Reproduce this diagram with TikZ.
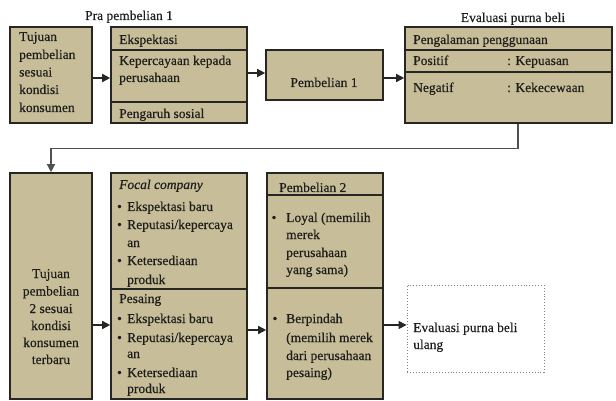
\documentclass[tikz,border=0pt]{standalone}
\usepackage{fontspec}
\setmainfont{Liberation Serif}[FakeBold=0.4]
\usetikzlibrary{arrows.meta}
\definecolor{khaki}{RGB}{199,189,152}
\definecolor{edge}{RGB}{38,38,34}
\definecolor{ink}{RGB}{30,30,28}
\definecolor{conngray}{RGB}{80,80,80}
\begin{document}
\begin{tikzpicture}[x=1pt,y=-1pt,
  box/.style={draw=edge,fill=khaki,line width=1.6pt,inner sep=0pt},
  divider/.style={draw=edge,line width=1.6pt},
  txt/.style={anchor=base west,inner sep=0pt,text=ink,font=\fontsize{13.5}{16}\selectfont},
  ctxt/.style={anchor=base,inner sep=0pt,text=ink,font=\fontsize{13.5}{16}\selectfont},
  arr/.style={draw=edge,line width=1.5pt,-{Triangle[length=8pt,width=8pt]}},
  conn/.style={draw=conngray,line width=1.3pt,-{Triangle[length=8pt,width=8pt]}},
  dotbox/.style={draw=gray,dotted,line width=0.9pt,inner sep=0pt}]
\useasboundingbox (0,0) rectangle (616,401);

% top row boxes
\node[box,minimum width=82pt,minimum height=96pt] (A) at (51,75) {};
\node[box,minimum width=136pt,minimum height=96pt] (B) at (179,75) {};
\node[box,minimum width=117pt,minimum height=50pt] (C) at (324.5,75) {};
\node[box,minimum width=207pt,minimum height=96pt] (D) at (508.5,75) {};
% bottom row boxes
\node[box,minimum width=82pt,minimum height=226pt] (E) at (51,286) {};
\node[box,minimum width=136pt,minimum height=226pt] (F) at (179,286) {};
\node[box,minimum width=116pt,minimum height=226pt] (G) at (325,286) {};
\node[dotbox,minimum width=137pt,minimum height=87pt] (H) at (475.5,328.5) {};

% dividers
\draw[divider] (111,50) -- (247,50);
\draw[divider] (111,102) -- (247,102);
\draw[divider] (405,50) -- (612,50);
\draw[divider] (405,72) -- (612,72);
\draw[divider] (111,289) -- (247,289);
\draw[divider] (267,195) -- (383,195);
\draw[divider] (267,288) -- (383,288);

% connectors
\draw[arr] ([yshift=-3pt]A.east) -- ([yshift=-3pt]B.west);
\draw[arr] ([yshift=2pt]B.east) -- ([yshift=2pt]C.west);
\draw[arr] ([yshift=-3pt]C.east) -- ([yshift=-3pt]D.west);
\draw[conn] ([xshift=9.5pt]D.south) -- ++(0,25) -| (E.north);
\draw[arr] ([yshift=-39pt]E.east) -- ([yshift=-39pt]F.west);
\draw[arr] ([yshift=-44pt]F.east) -- ([yshift=-44pt]G.west);
\draw[arr] ([yshift=-39pt]G.east) -- ([yshift=-39pt]G.east -| H.west);

% titles
\node[ctxt] (t1) at (129,20) {Pra pembelian 1};
\node[ctxt] (t2) at (513,22) {Evaluasi purna beli};

% box A
\foreach \s/\y [count=\i] in {{Tujuan}/41,{pembelian}/59,{sesuai}/76.5,{kondisi}/94,{konsumen}/112}
  \node[txt] (a\i) at (19,\y) {\s};
% box B
\node[txt] (b1) at (119,44) {Ekspektasi};
\node[txt] (b2) at (119,65) {Kepercayaan kepada};
\node[txt] (b3) at (119,82) {perusahaan};
\node[txt] (b4) at (119,118) {Pengaruh sosial};
% box C
\node[ctxt] (c1) at (324,87) {Pembelian 1};
% box D
\node[txt] (d1) at (413,44) {Pengalaman penggunaan};
\node[txt] (d2) at (413,65) {Positif};
\node[txt] (d3) at (507,65) {: Kepuasan};
\node[txt] (d4) at (413,92) {Negatif};
\node[txt] (d5) at (507,92) {: Kekecewaan};

% box E
\foreach \s/\y [count=\i] in {{Tujuan}/278,{pembelian}/295.5,{2 sesuai}/313,{kondisi}/330,{konsumen}/347,{terbaru}/364}
  \node[ctxt] (e\i) at (51,\y) {\s};

% box F
\node[txt,font=\fontsize{13.5}{16}\selectfont\itshape] (f0) at (119,189) {Focal company};
\foreach \s/\y [count=\i] in {{Ekspektasi baru}/211,{Reputasi/kepercaya}/229,{an}/247,{Ketersediaan}/265,{produk}/284}
  \node[txt] (f\i) at (127,\y) {\s};
\foreach \y [count=\i] in {211,229,265}
  \node[ctxt] (fb\i) at (119.5,\y) {\textbullet};
\node[txt] (p0) at (119,303) {Pesaing};
\foreach \s/\y [count=\i] in {{Ekspektasi baru}/323,{Reputasi/kepercaya}/342,{an}/358,{Ketersediaan}/377,{produk}/393}
  \node[txt] (p\i) at (127,\y) {\s};
\foreach \y [count=\i] in {323,342,377}
  \node[ctxt] (pb\i) at (119.5,\y) {\textbullet};

% box G
\node[txt] (g0) at (279,192) {Pembelian 2};
\node[ctxt] (gb1) at (274,222) {\textbullet};
\foreach \s/\y [count=\i] in {{Loyal (memilih}/222,{merek}/239,{perusahaan}/257,{yang sama)}/274}
  \node[txt] (g\i) at (286,\y) {\s};
\node[ctxt] (gb2) at (275,323) {\textbullet};
\foreach \s/\y [count=\i] in {{Berpindah}/323,{(memilih merek}/342,{dari perusahaan}/360,{pesaing)}/377}
  \node[txt] (h\i) at (286,\y) {\s};

% box H
\node[txt] (k1) at (413,332) {Evaluasi purna beli};
\node[txt] (k2) at (413,349) {ulang};
\end{tikzpicture}
\end{document}
